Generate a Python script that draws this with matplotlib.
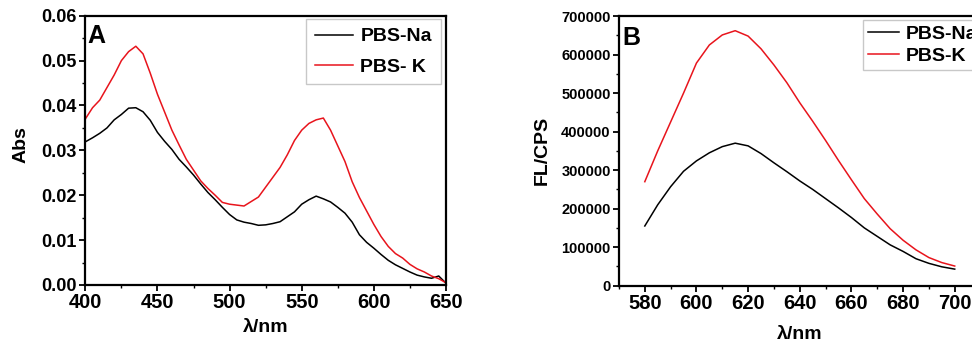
import matplotlib
matplotlib.use("Agg")
import matplotlib.pyplot as plt
from matplotlib.ticker import MultipleLocator

plt.rcParams['font.family'] = ['Liberation Sans', 'DejaVu Sans']
plt.rcParams['font.weight'] = 'bold'

# Panel A: absorbance spectra (5 nm steps)
wl_abs = list(range(400, 655, 5))
abs_na = [0.0319, 0.0328, 0.0338, 0.0350, 0.0368, 0.0380, 0.0394, 0.0395, 0.0386, 0.0367,
          0.0340, 0.0320, 0.0302, 0.0280, 0.0263, 0.0245, 0.0225, 0.0206, 0.0190, 0.0173,
          0.0157, 0.0145, 0.0140, 0.0137, 0.0133, 0.0134, 0.0137, 0.0141, 0.0152, 0.0163,
          0.0180, 0.0190, 0.0198, 0.0192, 0.0185, 0.0173, 0.0160, 0.0140, 0.0112, 0.0095,
          0.0082, 0.0068, 0.0055, 0.0045, 0.0037, 0.0029, 0.0022, 0.0018, 0.0015, 0.0020,
          0.0004]
abs_k = [0.0370, 0.0395, 0.0412, 0.0440, 0.0468, 0.0500, 0.0520, 0.0532, 0.0515, 0.0472,
         0.0425, 0.0385, 0.0345, 0.0312, 0.0280, 0.0256, 0.0232, 0.0215, 0.0200, 0.0184,
         0.0180, 0.0178, 0.0176, 0.0186, 0.0196, 0.0218, 0.0240, 0.0262, 0.0290, 0.0322,
         0.0345, 0.0360, 0.0368, 0.0372, 0.0345, 0.0310, 0.0275, 0.0230, 0.0195, 0.0165,
         0.0135, 0.0108, 0.0086, 0.0070, 0.0060, 0.0046, 0.0036, 0.0029, 0.0020, 0.0014,
         0.0005]

# Panel B: fluorescence spectra (5 nm steps)
wl_fl = list(range(580, 705, 5))
fl_na = [155000, 210000, 257000, 297000, 324000, 345000, 361000, 370000, 363000, 343000,
         319000, 296000, 272000, 250000, 226000, 202000, 177000, 150000, 128000, 106000,
         89000, 70000, 58000, 49000, 43000]
fl_k = [270000, 350000, 425000, 500000, 578000, 625000, 651000, 662000, 648000, 615000,
        573000, 527000, 475000, 427000, 377000, 325000, 275000, 226000, 186000, 148000,
        118000, 93000, 73000, 60000, 51000]

fig = plt.figure(figsize=(9.72, 3.47), dpi=100)
axA = fig.add_axes([0.0878, 0.1787, 0.371, 0.776])
axB = fig.add_axes([0.6368, 0.1767, 0.372, 0.777])


def style(ax):
    for s in ax.spines.values():
        s.set_linewidth(1.6)
    ax.tick_params(which='major', direction='out', length=4, width=1.3, pad=2)
    ax.tick_params(which='minor', direction='out', length=2.5, width=1.0)
    ax.tick_params(axis='x', labelsize=14.5)


axA.plot(wl_abs, abs_na, color='black', lw=1.1, label='PBS-Na')
axA.plot(wl_abs, abs_k, color='#e8141c', lw=1.1, label='PBS- K')
axA.set_xlim(400, 650)
axA.set_ylim(0, 0.06)
axA.xaxis.set_major_locator(MultipleLocator(50))
axA.xaxis.set_minor_locator(MultipleLocator(25))
axA.yaxis.set_major_locator(MultipleLocator(0.01))
axA.yaxis.set_minor_locator(MultipleLocator(0.005))
axA.yaxis.set_major_formatter(lambda v, p: f"{v:.2f}")
style(axA)
axA.tick_params(axis='y', labelsize=13)
axA.set_ylabel('Abs', fontsize=14, fontweight='bold')
axA.yaxis.set_label_coords(-0.155, 0.52)
axA.set_xlabel('λ/nm', fontsize=14, fontweight='bold')
axA.xaxis.set_label_coords(0.5, -0.125)
axA.text(0.005, 0.968, 'A', transform=axA.transAxes, fontsize=18, fontweight='bold',
         ha='left', va='top')
axA.legend(loc='upper right', bbox_to_anchor=(0.985, 0.988), borderaxespad=0,
           fontsize=14, frameon=True, fancybox=False, edgecolor='#bbbbbb',
           handlelength=2.0, labelspacing=0.65, borderpad=0.45, handletextpad=0.35)

axB.plot(wl_fl, fl_na, color='black', lw=1.1, label='PBS-Na')
axB.plot(wl_fl, fl_k, color='#e8141c', lw=1.1, label='PBS-K')
axB.set_xlim(570, 710)
axB.set_ylim(0, 700000)
axB.xaxis.set_major_locator(MultipleLocator(20))
axB.xaxis.set_minor_locator(MultipleLocator(10))
axB.yaxis.set_major_locator(MultipleLocator(100000))
axB.yaxis.set_minor_locator(MultipleLocator(50000))
axB.yaxis.set_major_formatter(lambda v, p: f"{int(v)}")
style(axB)
axB.tick_params(axis='y', labelsize=10.5)
axB.set_ylabel('FL/CPS', fontsize=14, fontweight='bold')
axB.yaxis.set_label_coords(-0.19, 0.5)
axB.set_xlabel('λ/nm', fontsize=14, fontweight='bold')
axB.xaxis.set_label_coords(0.5, -0.15)
axB.text(0.01, 0.965, 'B', transform=axB.transAxes, fontsize=18, fontweight='bold',
         ha='left', va='top')
axB.legend(loc='upper left', bbox_to_anchor=(0.674, 0.985), borderaxespad=0,
           fontsize=14, frameon=True, fancybox=False, edgecolor='#bbbbbb',
           handlelength=1.6, labelspacing=0.25, borderpad=0.25, handletextpad=0.35)

fig.savefig('out.png', dpi=100)
